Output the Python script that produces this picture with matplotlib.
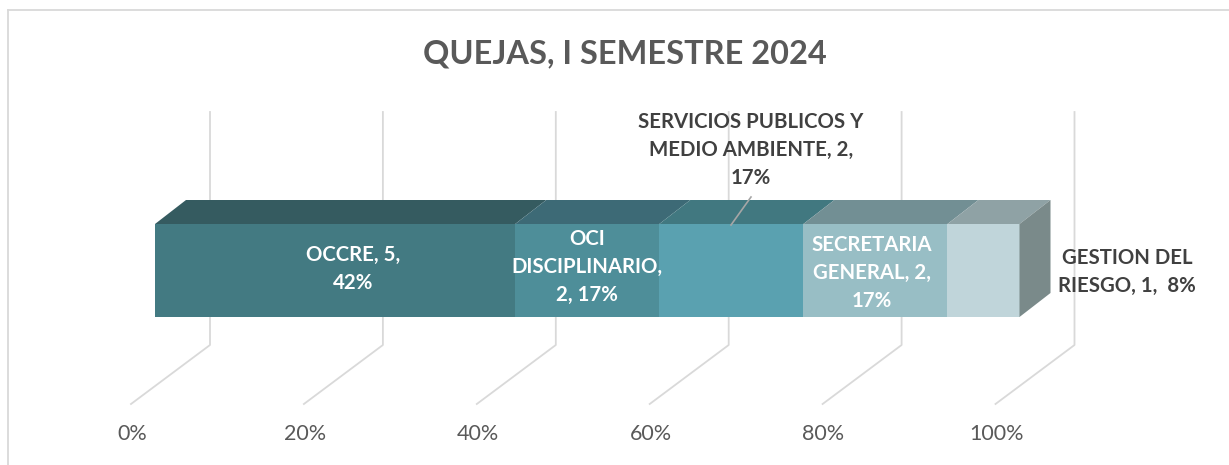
import numpy as np
import matplotlib.pyplot as plt

# datos del grafico
categorias = ['OCCRE', 'OCI DISCIPLINARIO', 'SERVICIOS PUBLICOS Y MEDIO AMBIENTE', 'SECRETARIA GENERAL', 'GESTION DEL RIESGO']
quejas = [5, 2, 2, 2, 1]
ticks = [0, 20, 40, 60, 80, 100]
tick_labels = ['0%', '20%', '40%', '60%', '80%', '100%']

color_frente = ['#437a82', '#4e8e99', '#5aa1b0', '#98bec5', '#c0d5da']
color_techo = ['#355b60', '#3d6a76', '#417880', '#728f94', '#8fa2a5']
color_lado = '#7a8a8a'
gris = '#d9d9d9'

plt.rcParams['font.family'] = ['Lato', 'DejaVu Sans']

W, H = 1229, 465
fig = plt.figure(figsize=(W / 100, H / 100), dpi=100)
ax = fig.add_axes([0, 0, 1, 1])

# eje x en porcentaje, eje y en pixeles de la imagen
px_pct = 8.645
x0 = 131
ax.set_xlim(-x0 / px_pct, (W - x0) / px_pct)
ax.set_ylim(H, 0)
ax.axis('off')

# profundidad de la perspectiva
prof_x = 79 / px_pct
prof_y = -59
y_suelo = 404
y_techo = 112

# marco
ax.plot([(8 - x0) / px_pct, (8 - x0) / px_pct], [H, 10], color=gris, lw=1.3)
ax.plot([(8 - x0) / px_pct, (W - x0) / px_pct], [10, 10], color=gris, lw=1.3)

# lineas de la cuadricula
for t, lab in zip(ticks, tick_labels):
    ax.plot([t, t + prof_x, t + prof_x], [y_suelo, y_suelo + prof_y, y_techo], color=gris, lw=1.3, zorder=1)
    ax.text(t + 0.1, 434, lab, ha='center', va='center', fontsize=15.5, color='#595959')

# barra apilada
total = sum(quejas)
pct = [100 * q / total for q in quejas]
izq = np.cumsum([0] + pct[:-1])
dx = 24 / px_pct
dx_3d = 31 / px_pct
y_abajo, y_arriba, y_fondo = 317, 224, 200

for i in range(len(quejas)):
    a = izq[i] + dx
    b = a + pct[i]
    ax.fill([a, b, b, a], [y_abajo, y_abajo, y_arriba, y_arriba], color=color_frente[i], lw=0, zorder=3)
    ax.fill([a, b, b + dx_3d, a + dx_3d], [y_arriba, y_arriba, y_fondo, y_fondo], color=color_techo[i], lw=0, zorder=3)

fin = 100 + dx
ax.fill([fin, fin + dx_3d, fin + dx_3d, fin], [y_abajo, y_abajo - 24, y_fondo, y_arriba], color=color_lado, lw=0, zorder=3)

# etiquetas
def etiqueta(x_px, y_px, txt, color):
    ax.text((x_px - x0) / px_pct, y_px, txt, ha='center', va='center', fontsize=14.7, fontweight='bold',
            color=color, linespacing=1.52, zorder=5)

etiqueta(353, 269, 'OCCRE, 5,\n42%', 'white')
etiqueta(587, 267, 'OCI\nDISCIPLINARIO,\n2, 17%', 'white')
etiqueta(751, 150, 'SERVICIOS PUBLICOS Y\nMEDIO AMBIENTE, 2,\n17%', '#404040')
etiqueta(872, 273, 'SECRETARIA\nGENERAL, 2,\n17%', 'white')
etiqueta(1127, 272, 'GESTION DEL\nRIESGO, 1,  8%', '#404040')

# linea guia
ax.plot([(731 - x0) / px_pct, (751 - x0) / px_pct], [225, 197], color='#a6a6a6', lw=1.2, zorder=4)

ax.text((625 - x0) / px_pct, 54, 'QUEJAS, I SEMESTRE 2024', ha='center', va='center', fontsize=23.4, fontweight='bold', color='#595959')

fig.savefig('out.png', dpi=100)
